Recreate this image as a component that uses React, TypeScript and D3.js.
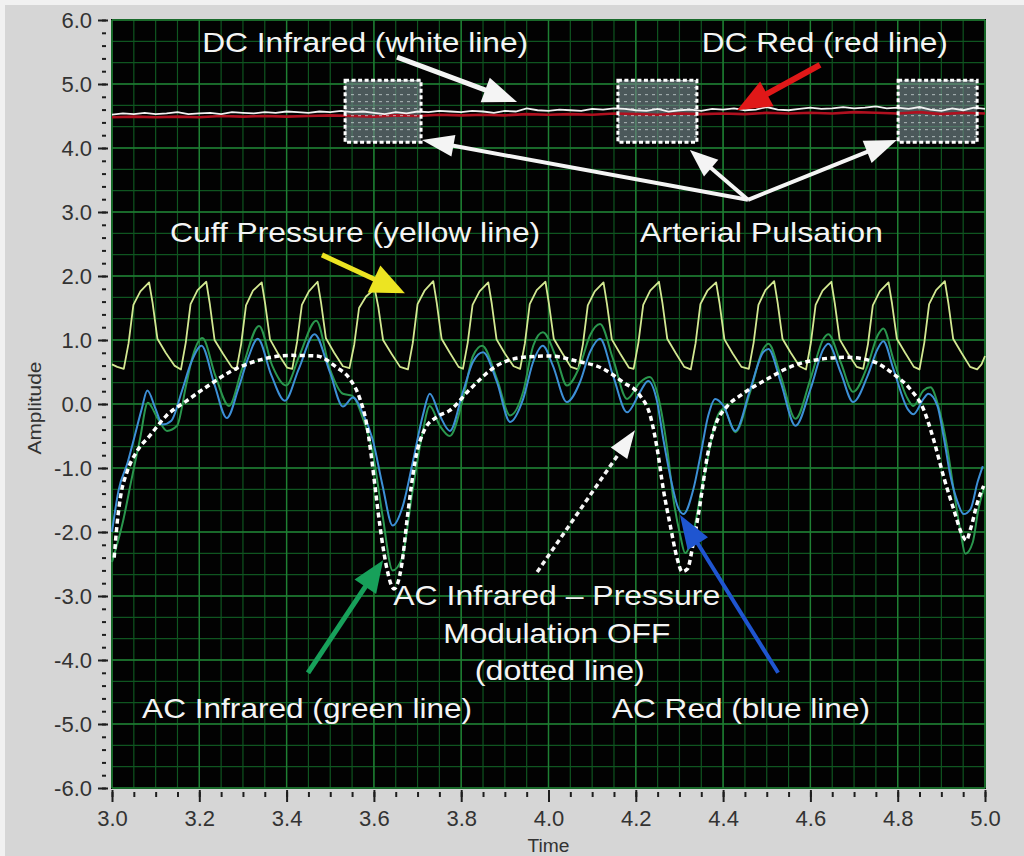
import { useEffect, useRef } from 'react'
import * as d3 from 'd3'

type Pt = [number, number]

const W = 1024
const H = 856

const X_TICKS = [3.0, 3.2, 3.4, 3.6, 3.8, 4.0, 4.2, 4.4, 4.6, 4.8, 5.0]
const Y_TICKS = [6, 5, 4, 3, 2, 1, 0, -1, -2, -3, -4, -5, -6]

// DC Infrared (white line)
const DC_INFRARED: Pt[] = [
  [3.0, 4.52], [3.025, 4.54], [3.05, 4.53], [3.075, 4.55], [3.1, 4.53], [3.125, 4.54], [3.15, 4.56],
  [3.175, 4.53], [3.2, 4.54], [3.225, 4.55], [3.25, 4.53], [3.275, 4.56], [3.3, 4.55], [3.325, 4.54],
  [3.35, 4.56], [3.375, 4.55], [3.4, 4.57], [3.425, 4.56], [3.45, 4.55], [3.475, 4.57], [3.5, 4.56],
  [3.525, 4.58], [3.55, 4.56], [3.575, 4.57], [3.6, 4.55], [3.625, 4.53], [3.65, 4.56], [3.675, 4.54],
  [3.7, 4.57], [3.725, 4.56], [3.75, 4.58], [3.775, 4.57], [3.8, 4.56], [3.825, 4.58], [3.85, 4.57],
  [3.875, 4.55], [3.9, 4.58], [3.925, 4.57], [3.95, 4.62], [3.975, 4.59], [4.0, 4.58], [4.025, 4.6],
  [4.05, 4.59], [4.075, 4.58], [4.1, 4.61], [4.125, 4.6], [4.15, 4.62], [4.175, 4.61], [4.2, 4.59],
  [4.225, 4.58], [4.25, 4.61], [4.275, 4.57], [4.3, 4.59], [4.325, 4.6], [4.35, 4.58], [4.375, 4.61],
  [4.4, 4.6], [4.425, 4.62], [4.45, 4.59], [4.475, 4.6], [4.5, 4.64], [4.525, 4.6], [4.55, 4.59],
  [4.575, 4.61], [4.6, 4.63], [4.625, 4.61], [4.65, 4.62], [4.675, 4.64], [4.7, 4.62], [4.725, 4.63],
  [4.75, 4.65], [4.775, 4.62], [4.8, 4.63], [4.825, 4.61], [4.85, 4.64], [4.875, 4.6], [4.9, 4.58],
  [4.925, 4.62], [4.95, 4.59], [4.975, 4.63], [5.0, 4.61],
]

// DC Red (red line)
const DC_RED: Pt[] = [
  [3.0, 4.48], [3.05, 4.49], [3.1, 4.48], [3.15, 4.49], [3.2, 4.48], [3.25, 4.5], [3.3, 4.49],
  [3.35, 4.5], [3.4, 4.49], [3.45, 4.5], [3.5, 4.51], [3.55, 4.5], [3.6, 4.49], [3.65, 4.51],
  [3.7, 4.5], [3.75, 4.52], [3.8, 4.51], [3.85, 4.52], [3.9, 4.51], [3.95, 4.53], [4.0, 4.52],
  [4.05, 4.53], [4.1, 4.52], [4.15, 4.54], [4.2, 4.53], [4.25, 4.52], [4.3, 4.54], [4.35, 4.53],
  [4.4, 4.54], [4.45, 4.53], [4.5, 4.55], [4.55, 4.54], [4.6, 4.55], [4.65, 4.54], [4.7, 4.56],
  [4.75, 4.55], [4.8, 4.54], [4.85, 4.56], [4.9, 4.53], [4.95, 4.55], [5.0, 4.54],
]

// Cuff Pressure (yellow line)
const CUFF_PRESSURE: Pt[] = [
  [3.0, 0.62], [3.012, 0.58], [3.027, 0.55], [3.038, 0.95], [3.049, 1.55], [3.065, 1.76], [3.085, 1.9],
  [3.093, 1.58], [3.104, 1.02], [3.123, 0.8], [3.143, 0.6],
  [3.158, 0.54], [3.169, 0.96], [3.18, 1.56], [3.196, 1.78], [3.216, 1.91], [3.224, 1.57], [3.235, 1.0],
  [3.254, 0.79], [3.274, 0.58],
  [3.285, 0.53], [3.296, 0.94], [3.307, 1.54], [3.323, 1.77], [3.343, 1.9], [3.351, 1.56], [3.362, 1.01],
  [3.381, 0.78], [3.401, 0.57],
  [3.413, 0.55], [3.424, 0.97], [3.435, 1.55], [3.451, 1.76], [3.471, 1.91], [3.479, 1.58], [3.49, 1.03],
  [3.509, 0.8], [3.529, 0.59],
  [3.544, 0.56], [3.555, 0.93], [3.566, 1.5], [3.582, 1.68], [3.602, 1.8], [3.61, 1.52], [3.621, 1.0],
  [3.64, 0.79], [3.66, 0.58],
  [3.678, 0.54], [3.689, 0.95], [3.7, 1.56], [3.716, 1.77], [3.736, 1.92], [3.744, 1.58], [3.755, 1.02],
  [3.774, 0.8], [3.794, 0.58],
  [3.804, 0.55], [3.815, 0.96], [3.826, 1.55], [3.842, 1.76], [3.862, 1.9], [3.87, 1.57], [3.881, 1.01],
  [3.9, 0.79], [3.92, 0.59],
  [3.935, 0.55], [3.946, 0.95], [3.957, 1.56], [3.973, 1.78], [3.993, 1.91], [4.001, 1.57], [4.012, 1.02],
  [4.031, 0.8], [4.051, 0.58],
  [4.068, 0.54], [4.079, 0.94], [4.09, 1.54], [4.106, 1.76], [4.126, 1.9], [4.134, 1.56], [4.145, 1.01],
  [4.164, 0.79], [4.184, 0.57],
  [4.195, 0.55], [4.206, 0.96], [4.217, 1.55], [4.233, 1.77], [4.253, 1.91], [4.261, 1.58], [4.272, 1.02],
  [4.291, 0.8], [4.311, 0.58],
  [4.326, 0.54], [4.337, 0.95], [4.348, 1.56], [4.364, 1.77], [4.384, 1.9], [4.392, 1.57], [4.403, 1.01],
  [4.422, 0.79], [4.442, 0.58],
  [4.459, 0.55], [4.47, 0.96], [4.481, 1.55], [4.497, 1.78], [4.517, 1.92], [4.525, 1.58], [4.536, 1.02],
  [4.555, 0.8], [4.575, 0.59],
  [4.59, 0.54], [4.601, 0.95], [4.612, 1.55], [4.628, 1.77], [4.648, 1.91], [4.656, 1.57], [4.667, 1.01],
  [4.686, 0.79], [4.706, 0.58],
  [4.721, 0.55], [4.732, 0.94], [4.743, 1.54], [4.759, 1.76], [4.779, 1.9], [4.787, 1.57], [4.798, 1.02],
  [4.817, 0.8], [4.837, 0.58],
  [4.85, 0.54], [4.861, 0.96], [4.872, 1.56], [4.888, 1.78], [4.908, 1.92], [4.916, 1.58], [4.927, 1.02],
  [4.946, 0.8], [4.966, 0.58],
  [4.982, 0.54], [4.992, 0.62], [5.0, 0.75],
]

// AC Infrared (green line)
const AC_INFRARED: Pt[] = [
  [3.0, -2.47], [3.025, -1.84], [3.045, -1.17], [3.064, -0.55], [3.082, 0.02], [3.105, -0.23],
  [3.126, -0.42], [3.149, -0.34], [3.17, 0.3], [3.185, 0.75], [3.207, 1.03], [3.237, 0.44],
  [3.268, -0.03], [3.298, 0.55], [3.337, 1.22], [3.367, 0.6], [3.399, 0.29], [3.429, 0.75],
  [3.468, 1.3], [3.499, 0.55], [3.529, 0.16], [3.55, 0.13], [3.575, -0.23], [3.597, -0.75],
  [3.62, -1.75], [3.643, -2.6], [3.664, -2.42], [3.687, -1.43], [3.71, -0.5], [3.728, -0.03],
  [3.751, -0.34], [3.774, -0.5], [3.804, 0.08], [3.827, 0.75], [3.848, 0.91], [3.882, 0.39],
  [3.912, -0.18], [3.942, 0.19], [3.965, 0.91], [3.987, 1.12], [4.019, 0.7], [4.042, 0.29],
  [4.072, 0.6], [4.095, 1.07], [4.118, 1.25], [4.148, 0.7], [4.18, 0.08], [4.21, 0.34],
  [4.232, 0.42], [4.256, -0.03], [4.272, -0.7], [4.286, -1.48], [4.302, -2.06], [4.313, -2.33],
  [4.332, -2.0], [4.348, -1.43], [4.366, -0.81], [4.38, -0.34], [4.401, -0.08], [4.428, -0.44],
  [4.462, 0.19], [4.492, 0.86], [4.504, 0.94], [4.532, 0.44], [4.566, -0.23], [4.6, 0.39],
  [4.63, 1.02], [4.641, 1.09], [4.669, 0.66], [4.698, 0.19], [4.731, 0.6], [4.754, 1.07],
  [4.767, 1.18], [4.79, 0.7], [4.823, 0.08], [4.836, -0.03], [4.859, 0.21], [4.875, 0.26],
  [4.893, -0.03], [4.914, -0.7], [4.928, -1.33], [4.944, -2.0], [4.955, -2.34], [4.972, -2.16],
  [4.985, -1.64], [4.997, -1.33],
]

// AC Red (blue line)
const AC_RED: Pt[] = [
  [3.0, -2.0], [3.015, -1.35], [3.036, -0.91], [3.052, -0.5], [3.068, -0.08], [3.081, 0.21],
  [3.1, -0.08], [3.116, -0.32], [3.136, -0.26], [3.16, 0.2], [3.182, 0.66], [3.205, 0.91],
  [3.235, 0.3], [3.263, -0.22], [3.29, 0.25], [3.312, 0.72], [3.334, 1.02], [3.365, 0.45],
  [3.396, 0.05], [3.428, 0.55], [3.464, 1.09], [3.499, 0.5], [3.529, -0.04], [3.552, 0.1],
  [3.575, -0.15], [3.597, -0.55], [3.62, -1.28], [3.643, -1.9], [3.666, -1.6], [3.689, -0.91],
  [3.712, -0.18], [3.728, 0.16], [3.751, -0.18], [3.774, -0.42], [3.804, 0.19], [3.827, 0.66],
  [3.85, 0.81], [3.882, 0.34], [3.912, -0.28], [3.942, 0.08], [3.965, 0.66], [3.987, 0.91],
  [4.01, 0.6], [4.042, 0.03], [4.072, 0.34], [4.095, 0.81], [4.118, 1.02], [4.148, 0.44],
  [4.18, -0.13], [4.21, 0.19], [4.228, 0.36], [4.249, 0.03], [4.263, -0.55], [4.279, -1.13],
  [4.297, -1.62], [4.309, -1.72], [4.332, -1.33], [4.348, -0.81], [4.366, -0.18], [4.382, 0.08],
  [4.401, -0.03], [4.428, -0.42], [4.462, 0.23], [4.492, 0.81], [4.504, 0.86], [4.532, 0.34],
  [4.566, -0.34], [4.6, 0.23], [4.63, 0.86], [4.641, 0.94], [4.669, 0.5], [4.698, 0.03],
  [4.731, 0.44], [4.754, 0.86], [4.767, 0.98], [4.79, 0.55], [4.823, -0.08], [4.836, -0.16],
  [4.859, 0.08], [4.87, 0.16], [4.891, -0.03], [4.905, -0.5], [4.921, -1.13], [4.937, -1.53],
  [4.951, -1.72], [4.967, -1.64], [4.983, -1.22], [4.995, -0.97],
]

// AC Infrared – pressure modulation OFF (dotted line)
const AC_INFRARED_NO_MOD: Pt[] = [
  [3.005, -2.4], [3.012, -1.85], [3.02, -1.43], [3.034, -1.07], [3.056, -0.75], [3.086, -0.5],
  [3.125, -0.18], [3.171, 0.05], [3.217, 0.27], [3.275, 0.52], [3.345, 0.7], [3.407, 0.76],
  [3.469, 0.75], [3.515, 0.57], [3.545, 0.39], [3.568, 0.08], [3.583, -0.3], [3.594, -0.81],
  [3.605, -1.43], [3.617, -2.06], [3.63, -2.58], [3.646, -2.89], [3.664, -2.5], [3.677, -1.75],
  [3.694, -0.91], [3.717, -0.39], [3.745, -0.2], [3.774, -0.1], [3.82, 0.23], [3.882, 0.6],
  [3.942, 0.73], [4.003, 0.75], [4.065, 0.67], [4.125, 0.55], [4.171, 0.34], [4.21, 0.13],
  [4.233, -0.18], [4.249, -0.7], [4.263, -1.33], [4.279, -1.9], [4.295, -2.42], [4.306, -2.62],
  [4.318, -2.58], [4.332, -2.16], [4.348, -1.53], [4.364, -0.81], [4.382, -0.34], [4.41, -0.03],
  [4.439, 0.13], [4.501, 0.39], [4.561, 0.6], [4.623, 0.7], [4.685, 0.73], [4.745, 0.66],
  [4.79, 0.47], [4.829, 0.23], [4.859, -0.08], [4.882, -0.55], [4.905, -1.13], [4.928, -1.64],
  [4.949, -2.06], [4.957, -2.13], [4.967, -1.95], [4.983, -1.53], [4.997, -1.28],
]

// arterial pulsation windows (time ranges)
const PULSATION_WINDOWS: Pt[] = [[3.534, 3.708], [4.159, 4.34], [4.801, 4.982]]
const WINDOW_V: Pt = [4.09, 5.06]

const LABELS = [
  { text: 'DC Infrared (white line)', t: 3.58, v: 5.5, len: 326 },
  { text: 'DC Red (red line)', t: 4.633, v: 5.5, len: 246 },
  { text: 'Cuff Pressure (yellow line)', t: 3.557, v: 2.53, len: 370 },
  { text: 'Arterial Pulsation', t: 4.488, v: 2.53, len: 243 },
  { text: 'AC Infrared \u2013 Pressure', t: 4.019, v: -3.14, len: 327 },
  { text: 'Modulation OFF', t: 4.019, v: -3.73, len: 227 },
  { text: '(dotted line)', t: 4.026, v: -4.31, len: 170 },
  { text: 'AC Infrared (green line)', t: 3.447, v: -4.91, len: 330 },
  { text: 'AC Red (blue line)', t: 4.441, v: -4.91, len: 258 },
]

const ARROWS: { from: Pt; to: Pt; color: string; width: number; head: number; headW: number; dashed?: boolean }[] = [
  { from: [3.653, 5.42], to: [3.928, 4.72], color: '#f4f4f4', width: 5, head: 34, headW: 26 },
  { from: [4.622, 5.3], to: [4.432, 4.59], color: '#e01818', width: 6, head: 34, headW: 28 },
  { from: [4.457, 3.19], to: [3.71, 4.125], color: '#f4f4f4', width: 4, head: 32, headW: 22 },
  { from: [4.457, 3.19], to: [4.324, 3.97], color: '#f4f4f4', width: 4, head: 28, headW: 22 },
  { from: [4.457, 3.19], to: [4.798, 4.125], color: '#f4f4f4', width: 4, head: 32, headW: 24 },
  { from: [3.481, 2.33], to: [3.671, 1.73], color: '#ece422', width: 5, head: 34, headW: 30 },
  { from: [3.974, -2.625], to: [4.198, -0.41], color: '#f4f4f4', width: 3.5, head: 28, headW: 20, dashed: true },
  { from: [3.449, -4.2], to: [3.621, -2.44], color: '#17a05a', width: 5, head: 32, headW: 26 },
  { from: [4.526, -4.2], to: [4.301, -1.73], color: '#1f55d0', width: 4, head: 34, headW: 24 },
]

const FONT = "'Liberation Sans', Arial, Helvetica, sans-serif"
const GRID_MINOR = '#0f5520'
const GRID_MAJOR = '#1f7f33'
const TICK_TEXT = '#333333'

export default function App() {
  const svgRef = useRef<SVGSVGElement>(null)

  useEffect(() => {
    const svg = svgRef.current
    if (!svg) return
    const sel = d3.select(svg)
    sel.selectAll('*').remove()

    const x = d3.scaleLinear().domain([3, 5]).range([112, 985])
    const y = d3.scaleLinear().domain([-6, 6]).range([788, 20])

    // panel
    sel.append('rect').attr('width', W).attr('height', H).attr('fill', '#f1f1f1')
    sel.append('rect').attr('x', 5).attr('y', 5).attr('width', W - 5).attr('height', H - 5).attr('fill', '#d6d6d6')

    const defs = sel.append('defs')
    const pat = defs
      .append('pattern')
      .attr('id', 'pulse-dots')
      .attr('width', 7)
      .attr('height', 7)
      .attr('patternUnits', 'userSpaceOnUse')
    pat.append('rect').attr('x', 1).attr('y', 3).attr('width', 3).attr('height', 1.2).attr('fill', 'rgba(225,235,235,0.55)')
    defs
      .append('clipPath')
      .attr('id', 'plot-clip')
      .append('rect')
      .attr('x', x(3) - 1)
      .attr('y', y(6) - 1)
      .attr('width', x(5) - x(3) + 2)
      .attr('height', y(-6) - y(6) + 2)

    // plot background
    sel.append('rect')
      .attr('x', x(3) - 1).attr('y', y(6) - 1)
      .attr('width', x(5) - x(3) + 2).attr('height', y(-6) - y(6) + 2)
      .attr('fill', '#020202')

    const plot = sel.append('g').attr('clip-path', 'url(#plot-clip)')

    // grid
    const grid = plot.append('g')
    const vMinor = d3.range(0, 41).map((i) => 3 + i * 0.05)
    const hMinor = d3.range(-18, 19).map((i) => i / 3)
    grid.selectAll('.vmin').data(vMinor).join('line')
      .attr('x1', (d) => x(d)).attr('x2', (d) => x(d)).attr('y1', y(6)).attr('y2', y(-6))
      .attr('stroke', GRID_MINOR).attr('stroke-width', 1.2)
    grid.selectAll('.hmin').data(hMinor).join('line')
      .attr('y1', (d) => y(d)).attr('y2', (d) => y(d)).attr('x1', x(3)).attr('x2', x(5))
      .attr('stroke', GRID_MINOR).attr('stroke-width', 1.2)
    grid.selectAll('.vmaj').data(X_TICKS).join('line')
      .attr('x1', (d) => x(d)).attr('x2', (d) => x(d)).attr('y1', y(6)).attr('y2', y(-6))
      .attr('stroke', GRID_MAJOR).attr('stroke-width', 1.4)
    grid.selectAll('.hmaj').data(Y_TICKS).join('line')
      .attr('y1', (d) => y(d)).attr('y2', (d) => y(d)).attr('x1', x(3)).attr('x2', x(5))
      .attr('stroke', GRID_MAJOR).attr('stroke-width', 1.4)

    const line = d3.line<Pt>().x((d) => x(d[0])).y((d) => y(d[1]))
    const smooth = d3.line<Pt>().x((d) => x(d[0])).y((d) => y(d[1])).curve(d3.curveMonotoneX)

    // pulsation windows (fill)
    PULSATION_WINDOWS.forEach(([t0, t1]) => {
      plot.append('rect')
        .attr('x', x(t0)).attr('y', y(WINDOW_V[1]))
        .attr('width', x(t1) - x(t0)).attr('height', y(WINDOW_V[0]) - y(WINDOW_V[1]))
        .attr('fill', 'rgba(115,135,138,0.65)')
    })

    // DC lines
    plot.append('path').datum(DC_RED).attr('d', line)
      .attr('fill', 'none').attr('stroke', '#b0101f').attr('stroke-width', 2.6)
    plot.append('path').datum(DC_INFRARED).attr('d', line)
      .attr('fill', 'none').attr('stroke', '#f2f2f2').attr('stroke-width', 1.8)

    PULSATION_WINDOWS.forEach(([t0, t1]) => {
      plot.append('rect')
        .attr('x', x(t0)).attr('y', y(WINDOW_V[1]))
        .attr('width', x(t1) - x(t0)).attr('height', y(WINDOW_V[0]) - y(WINDOW_V[1]))
        .attr('fill', 'url(#pulse-dots)')
        .attr('stroke', '#ffffff').attr('stroke-width', 3).attr('stroke-dasharray', '4,2.5')
    })

    // AC and cuff lines
    plot.append('path').datum(CUFF_PRESSURE).attr('d', line)
      .attr('fill', 'none').attr('stroke', '#d3e891').attr('stroke-width', 1.8).attr('stroke-linejoin', 'round')
    plot.append('path').datum(AC_INFRARED).attr('d', smooth)
      .attr('fill', 'none').attr('stroke', '#2a964d').attr('stroke-width', 2)
    plot.append('path').datum(AC_RED).attr('d', smooth)
      .attr('fill', 'none').attr('stroke', '#3d8fd6').attr('stroke-width', 2)
    plot.append('path').datum(AC_INFRARED_NO_MOD).attr('d', smooth)
      .attr('fill', 'none').attr('stroke', '#ffffff').attr('stroke-width', 3.5).attr('stroke-dasharray', '5,3.5')

    // arrows
    const arrows = sel.append('g')
    ARROWS.forEach((a) => {
      const x0 = x(a.from[0]), y0 = y(a.from[1])
      const x1 = x(a.to[0]), y1 = y(a.to[1])
      const ang = Math.atan2(y1 - y0, x1 - x0)
      const bx = x1 - Math.cos(ang) * a.head
      const by = y1 - Math.sin(ang) * a.head
      const nx = -Math.sin(ang) * a.headW / 2
      const ny = Math.cos(ang) * a.headW / 2
      arrows.append('line')
        .attr('x1', x0).attr('y1', y0)
        .attr('x2', bx + Math.cos(ang) * 4).attr('y2', by + Math.sin(ang) * 4)
        .attr('stroke', a.color).attr('stroke-width', a.width)
        .attr('stroke-dasharray', a.dashed ? '5,3.5' : null)
      arrows.append('path')
        .attr('d', `M${x1},${y1}L${bx + nx},${by + ny}L${bx - nx},${by - ny}Z`)
        .attr('fill', a.color)
    })

    // annotation labels
    sel.append('g').selectAll('text').data(LABELS).join('text')
      .attr('x', (d) => x(d.t)).attr('y', (d) => y(d.v))
      .attr('text-anchor', 'middle')
      .attr('font-family', FONT).attr('font-size', 28)
      .attr('textLength', (d) => d.len).attr('lengthAdjust', 'spacingAndGlyphs')
      .attr('fill', '#f4f4f4')
      .text((d) => d.text)

    // axes
    const fmt = (d: d3.NumberValue) => (d as number).toFixed(1)
    const styleAxis = (g: d3.Selection<SVGGElement, unknown, null, undefined>) => {
      g.select('.domain').remove()
      g.selectAll('.tick line').attr('stroke', '#1e1e1e').attr('stroke-width', 2)
      g.selectAll('.tick text').attr('fill', TICK_TEXT).attr('font-size', 22).attr('font-family', FONT)
    }

    sel.append('g').attr('transform', `translate(${x(3) - 6},0)`)
      .call(d3.axisLeft(y).tickValues(d3.range(-30, 31).map((i) => i / 5)).tickSize(4).tickFormat(() => ''))
      .call(styleAxis)
    sel.append('g').attr('transform', `translate(${x(3) - 4},0)`)
      .call(d3.axisLeft(y).tickValues(Y_TICKS).tickSize(10).tickPadding(6).tickFormat(fmt))
      .call(styleAxis)

    sel.append('g').attr('transform', `translate(0,${y(-6) + 4})`)
      .call(d3.axisBottom(x).tickValues(vMinor).tickSize(5).tickFormat(() => ''))
      .call(styleAxis)
    sel.append('g').attr('transform', `translate(0,${y(-6) + 2})`)
      .call(d3.axisBottom(x).tickValues(X_TICKS).tickSize(12).tickPadding(8).tickFormat(fmt))
      .call(styleAxis)

    sel.append('text')
      .attr('x', x(4)).attr('y', 852)
      .attr('text-anchor', 'middle')
      .attr('font-family', FONT).attr('font-size', 18)
      .attr('textLength', 42).attr('lengthAdjust', 'spacingAndGlyphs')
      .attr('fill', TICK_TEXT)
      .text('Time')

    sel.append('text')
      .attr('transform', `translate(41,${y(0) + 4}) rotate(-90)`)
      .attr('text-anchor', 'middle')
      .attr('font-family', FONT).attr('font-size', 18)
      .attr('textLength', 93).attr('lengthAdjust', 'spacingAndGlyphs')
      .attr('fill', TICK_TEXT)
      .text('Amplitude')
  }, [])

  return (
    <div style={{ position: 'absolute', left: 0, top: 0, width: W, height: H }}>
      <svg ref={svgRef} width={W} height={H} style={{ display: 'block' }} />
    </div>
  )
}
